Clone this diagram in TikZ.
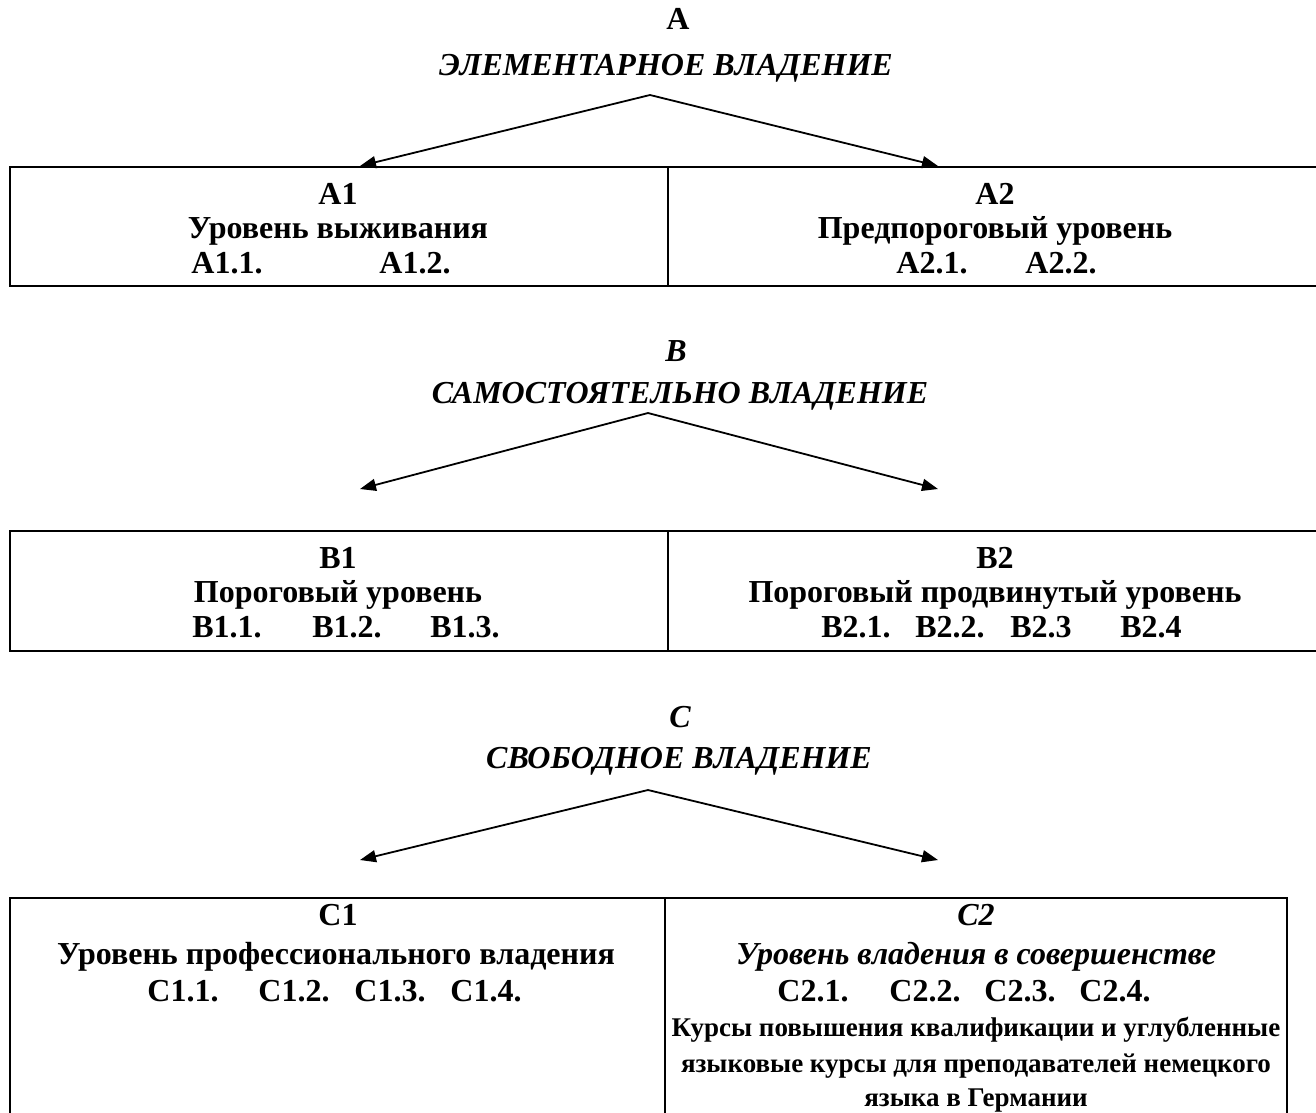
\documentclass[tikz,border=0pt]{standalone}
\usepackage{fontspec}
\setmainfont{Liberation Serif}
\usetikzlibrary{arrows.meta}
\begin{document}
\begin{tikzpicture}[x=1pt,y=-1pt,
  txt/.style={font=\fontsize{32}{36}\selectfont\bfseries, inner sep=0pt, anchor=base},
  ttl/.style={font=\fontsize{32}{36}\selectfont\bfseries\itshape, inner sep=0pt, anchor=base},
  small/.style={font=\fontsize{27}{30}\selectfont\bfseries, inner sep=0pt, anchor=base},
  frame/.style={line width=2.6pt},
  divider/.style={line width=2pt},
  arr/.style={line width=1.8pt, -{Triangle[length=16pt,width=12pt]}}
]
\useasboundingbox (0,0) rectangle (1316,1112);
\clip (0,0) rectangle (1316,1112);

% ---------- A ----------
\node[txt] (A) at (678,29) {A};
\node[ttl] (Atitle) at (666,75) {ЭЛЕМЕНТАРНОЕ ВЛАДЕНИЕ};
\coordinate (Aapex) at (650,95);
\coordinate (A1tip) at (360,166);
\coordinate (A2tip) at (938,166);
\draw[arr] (Aapex) -- (A1tip);
\draw[arr] (Aapex) -- (A2tip);
\draw[frame] (1330,167) -- (10,167) -- (10,286) -- (1330,286);
\draw[divider] (668,167) -- (668,286);
\node[txt] (A1) at (338,204) {A1};
\node[txt] (A1name) at (338,238) {Уровень выживания};
\node[txt] (A11) at (227,273) {A1.1.};
\node[txt] (A12) at (415,273) {A1.2.};
\node[txt] (A2) at (995,204) {A2};
\node[txt] (A2name) at (995,238) {Предпороговый уровень};
\node[txt] (A21) at (932,273) {A2.1.};
\node[txt] (A22) at (1061,273) {A2.2.};

% ---------- B ----------
\node[ttl] (B) at (676,361) {B};
\node[ttl] (Btitle) at (680,403) {САМОСТОЯТЕЛЬНО ВЛАДЕНИЕ};
\coordinate (Bapex) at (648,413);
\coordinate (B1tip) at (360,489);
\coordinate (B2tip) at (938,489);
\draw[arr] (Bapex) -- (B1tip);
\draw[arr] (Bapex) -- (B2tip);
\draw[frame] (1330,531) -- (10,531) -- (10,651) -- (1330,651);
\draw[divider] (668,531) -- (668,651);
\node[txt] (B1) at (338,568) {B1};
\node[txt] (B1name) at (338,602) {Пороговый уровень};
\node[txt] (B11) at (227,637) {B1.1.};
\node[txt] (B12) at (347,637) {B1.2.};
\node[txt] (B13) at (465,637) {B1.3.};
\node[txt] (B2) at (995,568) {B2};
\node[txt] (B2name) at (995,602) {Пороговый продвинутый уровень};
\node[txt] (B21) at (856,637) {B2.1.};
\node[txt] (B22) at (950,637) {B2.2.};
\node[txt] (B23) at (1041,637) {B2.3};
\node[txt] (B24) at (1151,637) {B2.4};

% ---------- C ----------
\node[ttl] (C) at (680,727) {C};
\node[ttl] (Ctitle) at (679,768) {СВОБОДНОЕ ВЛАДЕНИЕ};
\coordinate (Capex) at (648,790);
\coordinate (C1tip) at (360,860);
\coordinate (C2tip) at (938,860);
\draw[arr] (Capex) -- (C1tip);
\draw[arr] (Capex) -- (C2tip);
\draw[frame] (10,1130) -- (10,898) -- (1287,898) -- (1287,1130);
\draw[divider] (665,898) -- (665,1130);
\node[txt] (C1) at (338,925) {C1};
\node[txt] (C1name) at (336,964) {Уровень профессионального владения};
\node[txt] (C11) at (183,1001) {C1.1.};
\node[txt] (C12) at (294,1001) {C1.2.};
\node[txt] (C13) at (390,1001) {C1.3.};
\node[txt] (C14) at (486,1001) {C1.4.};
\node[ttl] (C2) at (976,925) {C2};
\node[ttl] (C2name) at (976,964) {Уровень владения в совершенстве};
\node[txt] (C21) at (813,1001) {C2.1.};
\node[txt] (C22) at (925,1001) {C2.2.};
\node[txt] (C23) at (1020,1001) {C2.3.};
\node[txt] (C24) at (1115,1001) {C2.4.};
\node[small] (C2a) at (976,1036) {Курсы повышения квалификации и углубленные};
\node[small] (C2b) at (976,1072) {языковые курсы для преподавателей немецкого};
\node[small] (C2c) at (976,1106) {языка в Германии};
\end{tikzpicture}
\end{document}
